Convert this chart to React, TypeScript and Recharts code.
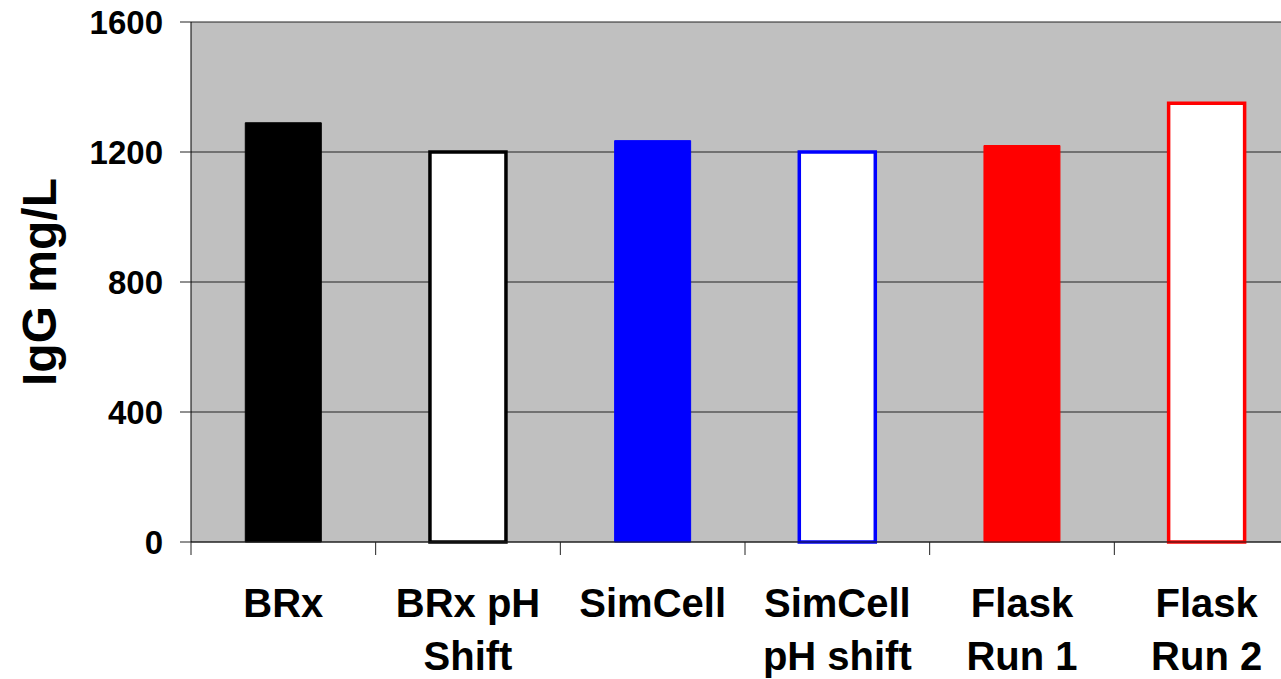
import React from 'react';
import { BarChart, Bar, XAxis, YAxis, CartesianGrid, Cell } from 'recharts';

const categories = ['BRx', 'BRx pH\nShift', 'SimCell', 'SimCell\npH shift', 'Flask\nRun 1', 'Flask\nRun 2'];
const iggValues = [1290, 1200, 1235, 1200, 1220, 1350];
const yTicks = [0, 400, 800, 1200, 1600];

const barFills = ['#000000', '#FFFFFF', '#0000FF', '#FFFFFF', '#FF0000', '#FFFFFF'];
const barStrokes = ['#000000', '#000000', '#0000FF', '#0000FF', '#FF0000', '#FF0000'];
const barStrokeWidths = [1, 3.5, 1, 3.5, 1, 3.5];

const chartData = categories.map((name, i) => ({ name, value: iggValues[i] }));

const FONT = '"Liberation Sans", Arial, sans-serif';

const XTick = (props: any) => {
  const { x, y, payload, index, width, visibleTicksCount } = props;
  const half = payload?.offset ?? width / visibleTicksCount / 2;
  const lines = String(payload.value).split('\n');
  return (
    <g>
      <line x1={x - half} x2={x - half} y1={y} y2={y + 13} stroke="#222" strokeWidth={1} />
      {index === visibleTicksCount - 1 && (
        <line x1={x + half} x2={x + half} y1={y} y2={y + 13} stroke="#222" strokeWidth={1} />
      )}
      <text
        x={x}
        y={y + 75}
        textAnchor="middle"
        fill="#000"
        style={{ fontFamily: FONT, fontWeight: 700, fontSize: 40 }}
      >
        {lines.map((ln, i) => (
          <tspan key={i} x={x} dy={i === 0 ? 0 : 53}>
            {ln}
          </tspan>
        ))}
      </text>
    </g>
  );
};

const YTitle = (props: any) => {
  const vb = props.viewBox;
  const cy = vb.y + vb.height / 2;
  return (
    <text
      x={39}
      y={cy}
      transform={`rotate(-90, 39, ${cy})`}
      textAnchor="middle"
      dominantBaseline="central"
      fill="#000"
      style={{ fontFamily: FONT, fontWeight: 700, fontSize: 48 }}
    >
      IgG mg/L
    </text>
  );
};

export default function App() {
  return (
    <div style={{ position: 'fixed', left: 0, top: 0, width: 1281, height: 679, overflow: 'hidden', background: '#fff' }}>
      <BarChart
        width={1320}
        height={679}
        data={chartData}
        margin={{ top: 22, right: 21, left: 0, bottom: 0 }}
        barCategoryGap="29.4%"
      >
        <CartesianGrid vertical={false} stroke="#222" strokeOpacity={1} fill="#C0C0C0" fillOpacity={1} />
        <XAxis
          dataKey="name"
          height={137}
          interval={0}
          tickLine={false}
          tickSize={0}
          tickMargin={0}
          axisLine={{ stroke: '#222' }}
          tick={<XTick />}
        />
        <YAxis
          width={191}
          domain={[0, 1600]}
          ticks={yTicks}
          interval={0}
          tickSize={11}
          tickMargin={17}
          axisLine={{ stroke: '#000' }}
          tickLine={{ stroke: '#222' }}
          tick={{ fill: '#000', fontFamily: FONT, fontWeight: 700, fontSize: 33 }}
          label={{ position: 'insideLeft', content: <YTitle /> }}
        />
        <Bar dataKey="value" isAnimationActive={false}>
          {chartData.map((d, i) => (
            <Cell key={d.name} fill={barFills[i]} stroke={barStrokes[i]} strokeWidth={barStrokeWidths[i]} />
          ))}
        </Bar>
      </BarChart>
    </div>
  );
}
